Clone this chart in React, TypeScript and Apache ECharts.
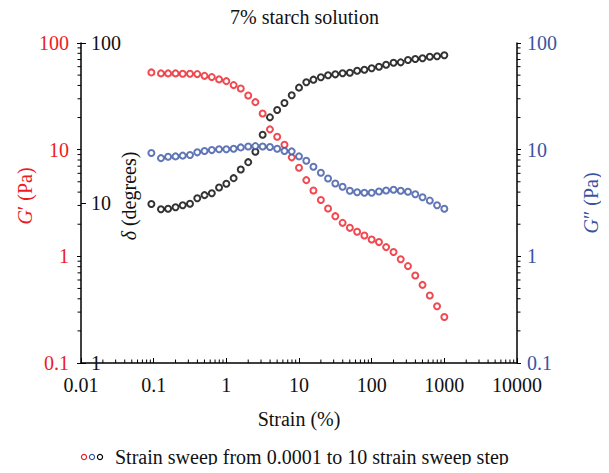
import React, { useEffect, useRef } from "react";
import * as echarts from "echarts";

const FONT = "Liberation Serif";
const RED = "#ed1c24";
const BLUE = "#3a54a4";
const BLACK = "#000000";

const titleText = "7% starch solution";
const legendText = "Strain sweep from 0.0001 to 10 strain sweep step";

const strain = [
  0.093, 0.126, 0.158, 0.2, 0.251, 0.316, 0.398, 0.501, 0.631, 0.794,
  1, 1.26, 1.58, 2, 2.51, 3.16, 3.98, 5.01, 6.31, 7.94,
  10, 12.6, 15.8, 20, 25.1, 31.6, 39.8, 50.1, 63.1, 79.4,
  100, 126, 158, 200, 251, 316, 398, 501, 631, 794, 1000,
];

const gPrime = [
  53, 51.9, 51.9, 51.9, 51.5, 51.5, 51.1, 49.2, 47.9, 45.6,
  43.9, 40.3, 37.5, 32.2, 27.9, 21.8, 15.5, 13.2, 11.1, 8.47,
  6.77, 5.18, 4.14, 3.37, 2.81, 2.38, 2.06, 1.85, 1.7, 1.57,
  1.44, 1.36, 1.22, 1.1, 0.94, 0.81, 0.66, 0.54, 0.43, 0.34, 0.27,
];

const gDouble = [
  9.29, 8.33, 8.59, 8.65, 8.79, 8.9, 9.44, 9.7, 9.91, 10.1,
  10.1, 10.2, 10.5, 10.7, 10.8, 10.7, 10.6, 10.2, 9.7, 9.64,
  8.65, 7.88, 6.92, 6.08, 5.37, 4.82, 4.49, 4.12, 3.99, 3.94,
  3.94, 4.05, 4.14, 4.21, 4.12, 4.03, 3.82, 3.58, 3.33, 3.01, 2.79,
];

const delta = [
  9.86, 9.14, 9.21, 9.4, 9.68, 9.9, 10.7, 11.2, 11.5, 12.5,
  13.2, 14.3, 16.2, 18.0, 20.9, 26.7, 34.3, 38.1, 42.2, 47.1,
  52.6, 56.8, 59.0, 61.1, 62.8, 63.7, 64.7, 65.2, 67.1, 68.1,
  69.5, 71.1, 73.2, 75.3, 75.7, 78.3, 79.4, 80.2, 82.1, 82.6, 83.8,
];

// axis decoration
const xDecades = [0.01, 0.1, 1, 10, 100, 1000];
const yDecades = [0.1, 1, 10];
const minorMultipliers = [2, 3, 4, 5, 6, 7, 8, 9];

const xMinor: number[] = [];
xDecades.forEach((d) => minorMultipliers.forEach((m) => xMinor.push(+(d * m).toPrecision(3))));
const yMinor: number[] = [];
yDecades.forEach((d) => minorMultipliers.forEach((m) => yMinor.push(+(d * m).toPrecision(3))));

const fmt = (v: number) => String(Number(v.toPrecision(3)));

function tickSeries(
  data: number[][],
  yAxisIndex: number,
  dir: "up" | "left" | "right"
) {
  return {
    type: "custom",
    xAxisIndex: 0,
    yAxisIndex,
    silent: true,
    clip: false,
    z: 10,
    data,
    renderItem: (_p: any, api: any) => {
      const pt = api.coord([api.value(0), api.value(1)]);
      const len = 3.5;
      let x2 = pt[0];
      let y2 = pt[1];
      if (dir === "up") y2 = pt[1] - len;
      if (dir === "left") x2 = pt[0] - len;
      if (dir === "right") x2 = pt[0] + len;
      return {
        type: "line",
        shape: { x1: pt[0], y1: pt[1], x2, y2 },
        style: { stroke: BLACK, lineWidth: 1 },
      };
    },
  };
}

export default function App() {
  const ref = useRef<HTMLDivElement>(null);

  useEffect(() => {
    if (!ref.current) return;
    const chart = echarts.init(ref.current, null, { renderer: "svg" });

    const axisLine = { show: true, onZero: false, lineStyle: { color: BLACK, width: 1.5 } };

    const option: any = {
      animation: false,
      backgroundColor: "#ffffff",
      textStyle: { fontFamily: FONT },
      title: {
        text: titleText,
        left: "center",
        top: 2,
        textStyle: { fontFamily: FONT, fontSize: 20, fontWeight: "normal", color: "#111" },
      },
      grid: { left: 81, right: 84, top: 43, bottom: 110 },
      xAxis: {
        type: "log",
        logBase: 10,
        min: 0.01,
        max: 10000,
        axisLine,
        axisTick: { show: true, inside: true, length: 5, lineStyle: { color: BLACK, width: 1 } },
        axisLabel: { margin: 12, fontSize: 20, fontFamily: FONT, color: "#111", formatter: fmt },
        splitLine: { show: false },
        name: "Strain (%)",
        nameLocation: "middle",
        nameGap: 46,
        nameMoveOverlap: false,
        nameTextStyle: { fontSize: 20, fontFamily: FONT, color: "#111" },
      },
      yAxis: [
        {
          type: "log",
          logBase: 10,
          min: 0.1,
          max: 100,
          position: "left",
          axisLine,
          axisTick: { show: true, inside: false, length: 4, lineStyle: { color: BLACK, width: 1 } },
          axisLabel: { margin: 12, fontSize: 20, fontFamily: FONT, color: RED, formatter: fmt },
          splitLine: { show: false },
          name: "{i|G}′ (Pa)",
          nameLocation: "middle",
          nameRotate: 90,
          nameGap: 46,
          nameMoveOverlap: false,
          nameTextStyle: {
            fontSize: 20,
            fontFamily: FONT,
            color: RED,
            padding: [0, 0, 0, 14],
            rich: { i: { fontStyle: "italic", fontSize: 20, fontFamily: FONT, color: RED } },
          },
        },
        {
          type: "log",
          logBase: 10,
          min: 1,
          max: 100,
          position: "left",
          axisLine: { show: false },
          axisTick: { show: true, inside: true, length: 5, lineStyle: { color: BLACK, width: 1 } },
          axisLabel: { inside: true, margin: 10, fontSize: 20, fontFamily: FONT, color: "#111", formatter: fmt },
          splitLine: { show: false },
          name: "{i|δ} (degrees)",
          nameLocation: "middle",
          nameRotate: 90,
          nameGap: -58,
          nameMoveOverlap: false,
          nameTextStyle: {
            fontSize: 20,
            fontFamily: FONT,
            color: "#111",
            padding: [0, 0, 0, 14],
            rich: { i: { fontStyle: "italic", fontSize: 20, fontFamily: FONT, color: "#111" } },
          },
        },
        {
          type: "log",
          logBase: 10,
          min: 0.1,
          max: 100,
          position: "right",
          axisLine,
          axisTick: { show: true, inside: false, length: 4, lineStyle: { color: BLACK, width: 1 } },
          axisLabel: { margin: 10, fontSize: 20, fontFamily: FONT, color: BLUE, formatter: fmt },
          splitLine: { show: false },
          name: "{i|G}″ (Pa)",
          nameLocation: "middle",
          nameRotate: 90,
          nameGap: 64,
          nameMoveOverlap: false,
          nameTextStyle: {
            fontSize: 20,
            fontFamily: FONT,
            color: BLUE,
            rich: { i: { fontStyle: "italic", fontSize: 20, fontFamily: FONT, color: BLUE } },
          },
        },
      ],
      graphic: [
        { type: "circle", shape: { cx: 84, cy: 457, r: 2.6 }, style: { fill: "#fff", stroke: RED, lineWidth: 1.2 } },
        { type: "circle", shape: { cx: 92, cy: 457, r: 2.6 }, style: { fill: "#fff", stroke: BLUE, lineWidth: 1.2 } },
        { type: "circle", shape: { cx: 100, cy: 457, r: 2.6 }, style: { fill: "#fff", stroke: BLACK, lineWidth: 1.2 } },
        {
          type: "text",
          x: 115,
          y: 457,
          style: { text: legendText, fontSize: 20, fontFamily: FONT, fill: "#111", verticalAlign: "middle" },
        },
      ],
      series: [
        {
          name: "G′",
          type: "scatter",
          yAxisIndex: 0,
          symbol: "emptyCircle",
          symbolSize: 6,
          itemStyle: { color: RED, borderWidth: 1.4 },
          data: strain.map((s, i) => [s, gPrime[i]]),
        },
        {
          name: "δ",
          type: "scatter",
          yAxisIndex: 1,
          symbol: "emptyCircle",
          symbolSize: 6,
          itemStyle: { color: BLACK, borderWidth: 1.4 },
          data: strain.map((s, i) => [s, delta[i]]),
        },
        {
          name: "G″",
          type: "scatter",
          yAxisIndex: 2,
          symbol: "emptyCircle",
          symbolSize: 6,
          itemStyle: { color: BLUE, borderWidth: 1.4 },
          data: strain.map((s, i) => [s, gDouble[i]]),
        },
        tickSeries(xMinor.map((v) => [v, 0.1]), 0, "up"),
        tickSeries(yMinor.map((v) => [0.01, v]), 0, "left"),
        tickSeries(yMinor.map((v) => [10000, v]), 2, "right"),
      ],
    };

    chart.setOption(option);
    return () => chart.dispose();
  }, []);

  return <div ref={ref} style={{ width: 609, height: 473, margin: -8 }} />;
}
